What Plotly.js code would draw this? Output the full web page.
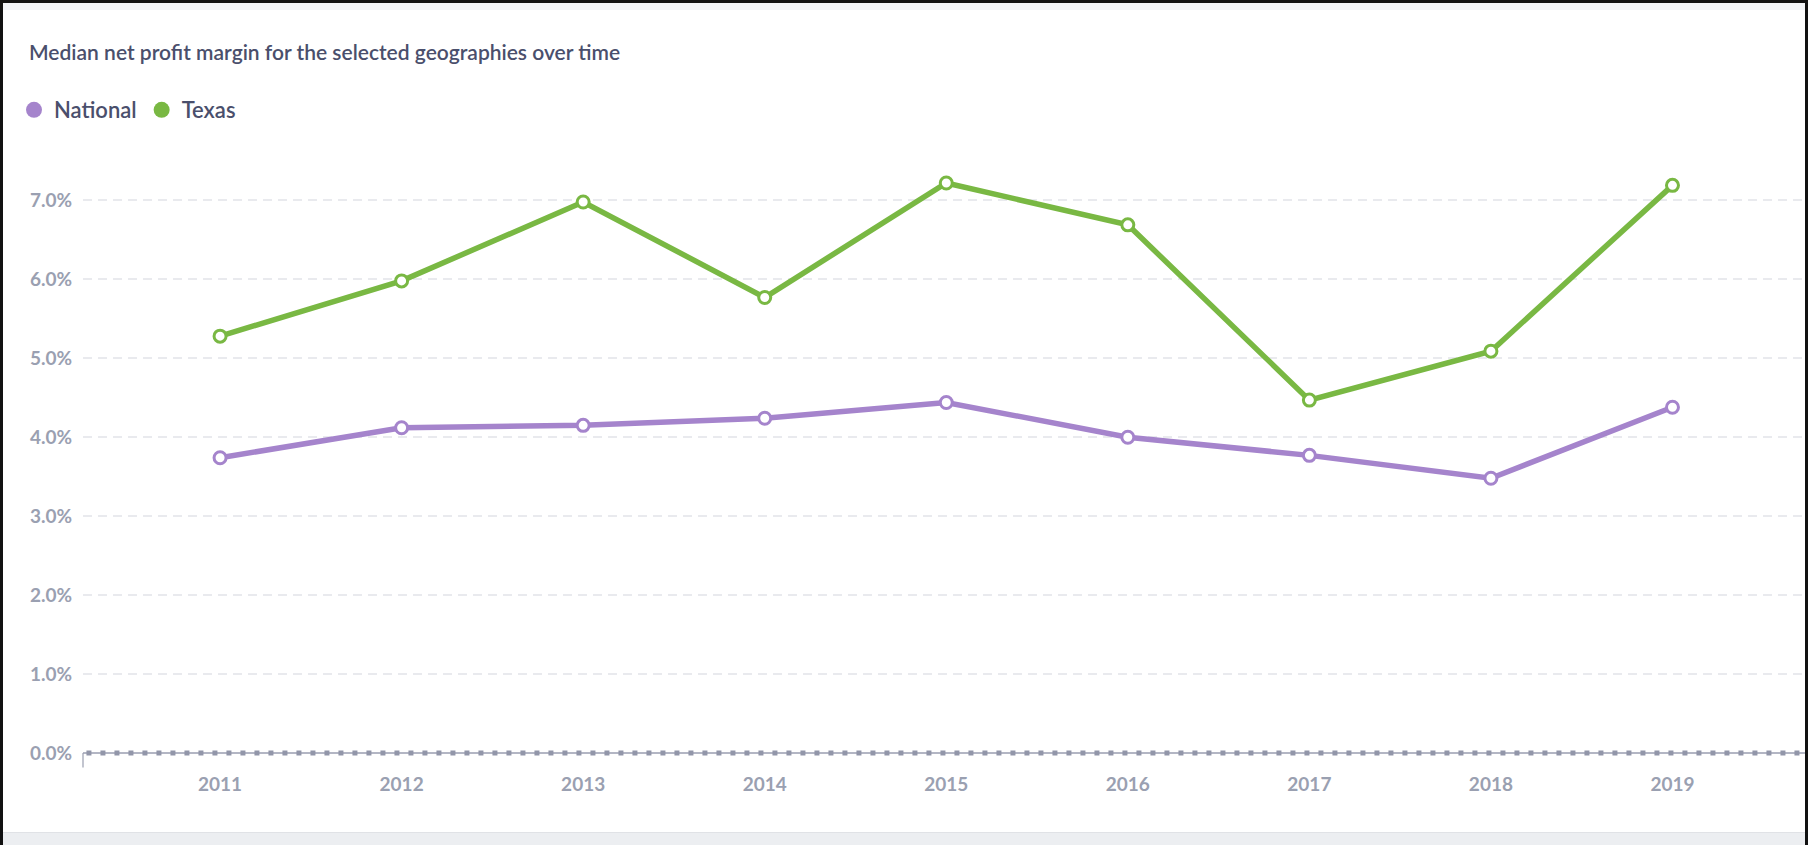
<!DOCTYPE html>
<html>
<head>
<meta charset="utf-8">
<script src="https://cdn.plot.ly/plotly-3.0.1.min.js"></script>
<style>
  html, body { margin:0; padding:0; background:#ffffff; }
  #frame { position:relative; width:1808px; height:845px; overflow:hidden; background:#ffffff; }
  #topbar { position:absolute; left:0; top:0; width:1808px; height:3px; background:#111; }
  #topband { position:absolute; left:0; top:3px; width:1808px; height:7px; background:#f1f3f6; }
  #leftbar { position:absolute; left:0; top:0; width:3px; height:845px; background:#111; }
  #rightbar { position:absolute; right:0; top:0; width:3px; height:845px; background:#111; }
  #bottomband { position:absolute; left:3px; bottom:0; width:1802px; height:12px; background:#eceef1; border-top:1px solid #e0e2e6; }
  #chart { position:absolute; left:0; top:0; width:1808px; height:845px; }
</style>
</head>
<body>
<div id="frame">
  <div id="topband"></div>
  <div id="bottomband"></div>
  <div id="chart"></div>
  <div id="topbar"></div>
  <div id="leftbar"></div>
  <div id="rightbar"></div>
</div>
<script>
const years = [2011, 2012, 2013, 2014, 2015, 2016, 2017, 2018, 2019];
const national = [3.74, 4.12, 4.15, 4.24, 4.44, 4.00, 3.77, 3.48, 4.38];
const texas = [5.28, 5.98, 6.98, 5.77, 7.22, 6.69, 4.47, 5.09, 7.19];
const yTicks = [0, 1, 2, 3, 4, 5, 6, 7];
const yTickText = ["0.0%", "1.0%", "2.0%", "3.0%", "4.0%", "5.0%", "6.0%", "7.0%"];
const seriesNames = ["National", "Texas"];

const purple = "#a584cc";
const green = "#79b843";

function lineTrace(y, color, name) {
  return {
    x: years, y: y, type: "scatter", mode: "lines+markers", name: name,
    showlegend: false,
    line: { color: color, width: 5.5 },
    marker: { size: 12, color: "#ffffff", line: { color: color, width: 3 } },
    hoverinfo: "x+y"
  };
}
function legendTrace(color, name) {
  return {
    x: [null], y: [null], type: "scatter", mode: "markers", name: name,
    showlegend: true,
    marker: { size: 18, color: color, symbol: "circle" }
  };
}

const data = [
  lineTrace(national, purple, seriesNames[0]),
  lineTrace(texas, green, seriesNames[1]),
  legendTrace(purple, seriesNames[0]),
  legendTrace(green, seriesNames[1])
];

const layout = {
  width: 1808, height: 845,
  paper_bgcolor: "rgba(0,0,0,0)",
  plot_bgcolor: "rgba(0,0,0,0)",
  margin: { l: 83, r: 3, t: 153, b: 92 },
  font: { family: "Lato, 'Open Sans', sans-serif", color: "#9aa0b1" },
  title: {
    text: "Median net profit margin for the selected geographies over time",
    xref: "container", yref: "container",
    x: 29 / 1808, xanchor: "left",
    y: 1 - 53 / 845, yanchor: "middle",
    font: { family: "Lato, sans-serif", size: 21, color: "#4a4f6c", weight: 600 }
  },
  showlegend: true,
  legend: {
    orientation: "h",
    xref: "container", yref: "container",
    x: 14 / 1808, xanchor: "left",
    y: 1 - 110 / 845, yanchor: "middle",
    font: { family: "Lato, sans-serif", size: 22, color: "#4a4f6c", weight: 600 },
    itemclick: false, itemdoubleclick: false,
    bgcolor: "rgba(0,0,0,0)"
  },
  xaxis: {
    range: [2010.245, 2019.73],
    tickvals: years,
    ticktext: years.map(String),
    showgrid: false, zeroline: false, showline: false,
    ticks: "",
    ticklabelstandoff: 18,
    tickfont: { family: "Lato, sans-serif", size: 19, color: "#9aa0b1", weight: 700 },
    fixedrange: true
  },
  yaxis: {
    range: [0, 7.6],
    tickvals: yTicks,
    ticktext: yTickText,
    showgrid: true, gridcolor: "#e9eaee", gridwidth: 1.5, griddash: "9px,6px",
    zeroline: false, showline: false, ticks: "",
    ticklabelstandoff: 10,
    tickfont: { family: "Lato, sans-serif", size: 19, color: "#9aa0b1", weight: 700 },
    fixedrange: true
  },
  shapes: [
    { type: "line", xref: "paper", yref: "paper", x0: 0, x1: 1, y0: 0, y1: 0,
      line: { color: "#9a9eb0", width: 1.5 }, layer: "above" },
    { type: "line", xref: "paper", yref: "paper", x0: 0.002, x1: 1, y0: 0, y1: 0,
      line: { color: "#9296a9", width: 5, dash: "5px,9px" }, layer: "above" },
    { type: "line", xref: "paper", yref: "paper", x0: 0, x1: 0, y0: 0, y1: -0.024,
      line: { color: "#9a9eb0", width: 1.2 }, layer: "above" }
  ]
};

Plotly.newPlot("chart", data, layout, { displayModeBar: false });
</script>
</body>
</html>
